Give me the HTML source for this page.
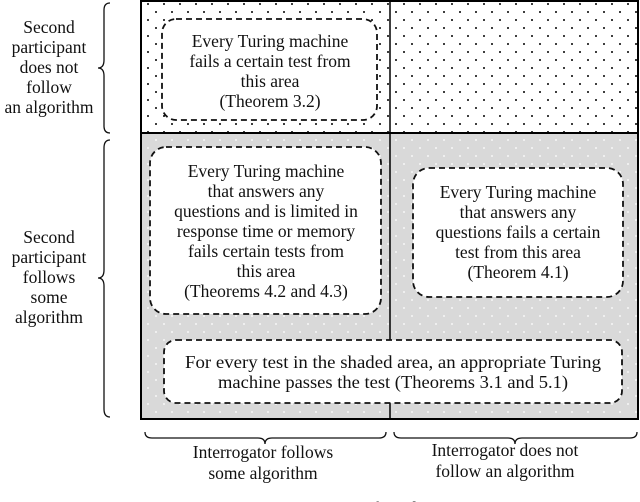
<!DOCTYPE html>
<html><head><meta charset="utf-8"><style>
html,body{margin:0;padding:0;background:#fff;width:640px;height:502px;overflow:hidden}
svg text{font-family:"Liberation Serif","DejaVu Serif",serif;font-size:17.5px;fill:#111}
</style></head><body>
<svg width="640" height="502" viewBox="0 0 640 502">
<defs>
<pattern id="pd" width="16" height="16" patternUnits="userSpaceOnUse">
<rect width="16" height="16" fill="#fff"/><circle cx="4" cy="4" r="1" fill="#000"/><circle cx="12" cy="12" r="1" fill="#000"/>
</pattern>
<pattern id="pg" width="16" height="16" patternUnits="userSpaceOnUse">
<rect width="16" height="16" fill="#d9d9d9"/><circle cx="4" cy="4" r="0.9" fill="#fff"/><circle cx="12" cy="12" r="0.9" fill="#fff"/>
</pattern>
</defs>
<rect x="141" y="1" width="497" height="132" fill="url(#pd)"/>
<rect x="141" y="133" width="497" height="286" fill="url(#pg)"/>
<rect x="141" y="1" width="497" height="418" fill="none" stroke="#000" stroke-width="2"/>
<line x1="141" y1="133" x2="638" y2="133" stroke="#000" stroke-width="2"/>
<line x1="390" y1="1" x2="390" y2="419" stroke="#000" stroke-width="1.5"/>
<g fill="#fff" stroke="#111" stroke-width="1.8" stroke-dasharray="6,4">
<rect x="162" y="19" width="215" height="101" rx="14"/>
<rect x="150" y="147" width="231" height="167" rx="16"/>
<rect x="413" y="168" width="210" height="129" rx="16"/>
<rect x="164" y="340" width="458" height="63" rx="12"/>
</g>
<g text-anchor="middle" font-family="Liberation Serif, serif" font-size="17.5">
<text x="270" y="47">Every Turing machine</text>
<text x="270" y="67">fails a certain test from</text>
<text x="270" y="87">this area</text>
<text x="270" y="107">(Theorem 3.2)</text>
<text x="266" y="177">Every Turing machine</text>
<text x="266" y="197">that answers any</text>
<text x="266" y="217">questions and is limited in</text>
<text x="266" y="237">response time or memory</text>
<text x="266" y="257">fails certain tests from</text>
<text x="266" y="277">this area</text>
<text x="266" y="297">(Theorems 4.2 and 4.3)</text>
<text x="518" y="198">Every Turing machine</text>
<text x="518" y="218">that answers any</text>
<text x="518" y="238">questions fails a certain</text>
<text x="518" y="258">test from this area</text>
<text x="518" y="278">(Theorem 4.1)</text>
<text x="393" y="368" textLength="416" lengthAdjust="spacingAndGlyphs">For every test in the shaded area, an appropriate Turing</text>
<text x="393" y="388" textLength="350" lengthAdjust="spacingAndGlyphs">machine passes the test (Theorems 3.1 and 5.1)</text>
<text x="49" y="33">Second</text>
<text x="49" y="53">participant</text>
<text x="49" y="73">does not</text>
<text x="49" y="93">follow</text>
<text x="49" y="113">an algorithm</text>
<text x="49" y="243">Second</text>
<text x="49" y="263">participant</text>
<text x="49" y="283">follows</text>
<text x="49" y="303">some</text>
<text x="49" y="323">algorithm</text>
<text x="263" y="458">Interrogator follows</text>
<text x="263" y="479">some algorithm</text>
<text x="505" y="456">Interrogator does not</text>
<text x="505" y="477">follow an algorithm</text>
<text x="320" y="514" font-size="19">Figure 1.1. Summary of results</text>
</g>
<g fill="none" stroke="#111" stroke-width="1.3">
<path d="M110,3 Q104,3 104,10 L104,60 Q104,68 98,68 Q104,68 104,76 L104,126 Q104,133 110,133"/>
<path d="M110,140 Q104,140 104,148 L104,270 Q104,278 98,278 Q104,278 104,286 L104,409 Q104,417 110,417"/>
<path d="M145,432 Q145,438 152,438 L258,438 Q265,438 265,444 Q265,438 272,438 L379,438 Q386,438 386,432"/>
<path d="M394,432 Q394,438 401,438 L508,438 Q515,438 515,444 Q515,438 522,438 L630,438 Q637,438 637,432"/>
</g>
</svg>
</body></html>
